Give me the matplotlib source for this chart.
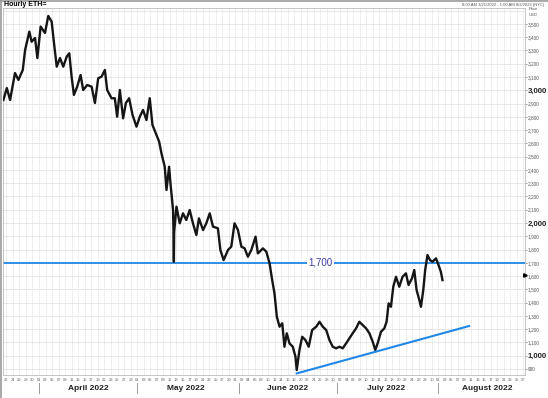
import matplotlib
matplotlib.use("Agg")
import matplotlib.pyplot as plt
import pandas as pd
from matplotlib.transforms import blended_transform_factory

plt.rcParams["font.family"] = ["Liberation Sans", "DejaVu Sans"]

# hourly ETH, values (approx)
times = [
    "03-21 03:00", "03-22 04:00", "03-23 04:00", "03-24 16:00", "03-25 17:00", "03-27 01:00",
    "03-27 18:00", "03-29 01:00", "03-29 18:00", "03-30 19:00", "03-31 12:00", "04-01 12:00",
    "04-02 20:00", "04-03 20:00", "04-04 21:00", "04-05 14:00", "04-06 10:00", "04-07 10:00",
    "04-08 10:00", "04-09 11:00", "04-10 06:00", "04-10 23:00", "04-11 16:00", "04-12 16:00",
    "04-13 17:00", "04-14 12:00", "04-15 18:00", "04-17 02:00", "04-18 02:00", "04-19 02:00",
    "04-20 03:00", "04-21 03:00", "04-21 20:00", "04-23 04:00", "04-24 04:00", "04-24 21:00",
    "04-25 17:00", "04-26 17:00", "04-27 13:00", "04-28 13:00", "04-29 14:00", "04-30 19:00",
    "05-01 19:00", "05-02 19:00", "05-03 20:00", "05-04 20:00", "05-05 16:00", "05-06 22:00",
    "05-07 17:00", "05-08 10:00", "05-09 10:00", "05-09 23:00", "05-10 18:00", "05-11 04:00",
    "05-11 23:00", "05-12 03:00", "05-12 05:00", "05-12 07:00", "05-13 00:00", "05-14 00:00",
    "05-15 00:00", "05-16 00:00", "05-17 01:00", "05-18 01:00", "05-19 02:00", "05-19 21:00",
    "05-21 03:00", "05-22 03:00", "05-23 04:00", "05-24 04:00", "05-25 16:00", "05-26 10:00",
    "05-27 10:00", "05-28 18:00", "05-29 18:00", "05-30 18:00", "05-31 19:00", "06-01 20:00",
    "06-02 20:00", "06-03 20:00", "06-04 21:00", "06-06 04:00", "06-06 21:00", "06-08 10:00",
    "06-09 11:00", "06-10 11:00", "06-11 06:00", "06-11 23:00", "06-12 16:00", "06-13 12:00",
    "06-14 08:00", "06-15 00:00", "06-15 17:00", "06-16 13:00", "06-17 13:00", "06-18 09:00",
    "06-18 18:00", "06-19 14:00", "06-20 10:00", "06-21 10:00", "06-22 10:00", "06-23 11:00",
    "06-24 17:00", "06-25 17:00", "06-26 17:00", "06-27 18:00", "06-28 18:00", "06-29 18:00",
    "06-30 19:00", "07-01 19:00", "07-02 19:00", "07-03 20:00", "07-04 20:00", "07-05 20:00",
    "07-06 21:00", "07-07 21:00", "07-08 22:00", "07-09 23:00", "07-10 23:00", "07-11 23:00",
    "07-12 18:00", "07-13 11:00", "07-14 12:00", "07-15 12:00", "07-16 05:00", "07-16 20:00",
    "07-17 13:00", "07-18 06:00", "07-19 02:00", "07-20 02:00", "07-21 02:00", "07-22 03:00",
    "07-22 22:00", "07-23 23:00", "07-24 16:00", "07-25 09:00", "07-26 05:00", "07-26 17:00",
    "07-27 10:00", "07-28 00:00", "07-28 17:00", "07-29 11:00", "07-30 06:00", "07-31 07:00",
    "08-01 02:00", "08-01 19:00", "08-02 07:00",
]
prices = [
    2927, 3017, 2927, 3130, 3078, 3153,
    3303, 3442, 3366, 3394, 3243, 3480,
    3432, 3560, 3517, 3355, 3178, 3243,
    3178, 3253, 3279, 3103, 2965, 3027,
    3115, 3002, 3040, 3027, 2904, 3090,
    3103, 3153, 3002, 2940, 2940, 2801,
    3002, 2789, 2904, 2940, 2814, 2726,
    2801, 2852, 2776, 2940, 2739, 2663,
    2613, 2525, 2424, 2249, 2424, 2300,
    2098, 1900, 1708, 1930, 2123, 1998,
    2073, 2023, 2098, 1998, 1910, 2035,
    1947, 1998, 2073, 1973, 1960, 1797,
    1721, 1797, 1822, 1998, 1947, 1822,
    1809, 1746, 1797, 1897, 1771, 1809,
    1784, 1696, 1570, 1470, 1294, 1219,
    1244, 1068, 1169, 1093, 1068, 992,
    892, 1043, 1143, 1118, 1068, 1194,
    1219, 1256, 1219, 1194, 1118, 1068,
    1056, 1068, 1056, 1093, 1131, 1169,
    1206, 1256, 1231, 1206, 1169, 1106,
    1043, 1093, 1181, 1206, 1256, 1395,
    1369, 1520, 1595, 1520, 1595, 1621,
    1533, 1583, 1646, 1495, 1420, 1369,
    1495, 1646, 1759, 1721, 1708, 1734,
    1683, 1633, 1570,
]

level = 1700
trend_times = ["06-18 18:00", "08-10 10:00"]
trend_prices = [867, 1224]

major_ticks = [1000, 2000, 3000]
minor_ticks = [900] + [v for v in range(1100, 3600, 100) if v not in (2000, 3000)]
months = ["March 2022", "April 2022", "May 2022", "June 2022", "July 2022", "August 2022"]

t = pd.to_datetime(["2022-" + s for s in times])
tt = pd.to_datetime(["2022-" + s for s in trend_times])
x0, x1 = pd.Timestamp("2022-03-21 00:00"), pd.Timestamp("2022-08-27 12:00")

fig = plt.figure(figsize=(5.48, 3.98), dpi=100)
ax = fig.add_axes([3 / 548, 1 - 375 / 398, 522 / 548, 367 / 398])

# grid: every 100 and every 2 days
grid_days = pd.date_range("2022-03-22", "2022-08-27", freq="2D")
for v in range(900, 3700, 100):
    ax.axhline(v, color="#dedede", lw=0.5, zorder=0)
for d in grid_days:
    ax.axvline(d, color="#dedede", lw=0.5, ls=(0, (2, 1)), zorder=0)

ax.plot(t, prices, color="#151515", lw=1.7, zorder=3)
ax.axhline(level, color="#1f88e6", lw=1.3, zorder=2)
ax.text(pd.Timestamp("2022-06-26"), level, "{:,}".format(level), color="#3a3aa8", fontsize=7,
        ha="center", va="center", zorder=4,
        bbox=dict(facecolor="white", edgecolor="none", pad=1))
ax.plot(tt, trend_prices, color="#1f88e6", lw=1.5, zorder=3)

ax.set_xlim(x0, x1)
ax.set_ylim(855, 3620)

# right price axis
ax.yaxis.tick_right()
ticks = sorted(minor_ticks + major_ticks)
ax.set_yticks(ticks)
ax.set_yticklabels(["{:,}".format(v) for v in ticks])
for lab, v in zip(ax.get_yticklabels(), ticks):
    if v in major_ticks:
        lab.set_fontsize(5.6)
        lab.set_fontweight("bold")
        lab.set_color("#222222")
    else:
        lab.set_fontsize(3.4)
        lab.set_color("#555555")
ax.tick_params(axis="y", length=1.5, width=0.5, color="#777777", pad=0.5)

# day ticks along the bottom
ax.set_xticks(grid_days)
ax.set_xticklabels([d.strftime("%d") for d in grid_days], fontsize=3, color="#666666")
ax.tick_params(axis="x", length=0, pad=2)

for s in ax.spines.values():
    s.set_color("#bbbbbb")
    s.set_linewidth(0.6)

# month separators and labels
trans = blended_transform_factory(ax.transData, ax.transAxes)
for m in range(4, 9):
    ms = pd.Timestamp(2022, m, 1)
    ax.plot([ms, ms], [-0.022, -0.048], transform=trans, color="#888888", lw=0.6, clip_on=False)
for m, name in zip(range(3, 9), months):
    mid = pd.Timestamp(2022, m, 16)
    if x0 < mid < x1:
        ax.text(mid, -0.037, name, transform=trans, ha="center", va="center",
                fontsize=6, fontweight="bold", color="#222222")

# last price marker on the axis
ax.plot([x1], [prices[-1] + 40], marker=">", color="black", markersize=2.5, clip_on=False,
        zorder=5)

fig.text(4 / 548, 1 - 5 / 398, "Hourly ETH=", fontsize=5, fontweight="bold", va="center")
fig.text(544 / 548, 1 - 5 / 398, "8:00 AM 3/21/2022 - 1:00 AM 8/2/2022 (NYC)", fontsize=3,
         color="#555555", ha="right", va="center")
fig.text(529 / 548, 1 - 12 / 398, "Price\nUSD", fontsize=3, color="#555555", va="center",
         linespacing=1.6)

# thin grey frame on the image edges
fig.add_artist(plt.Line2D([0.5 / 548, 0.5 / 548], [0, 1], color="#999999", lw=1.2))
fig.add_artist(plt.Line2D([0, 1], [1 - 0.5 / 398, 1 - 0.5 / 398], color="#999999", lw=1.2))

fig.savefig("out.png", dpi=100)
